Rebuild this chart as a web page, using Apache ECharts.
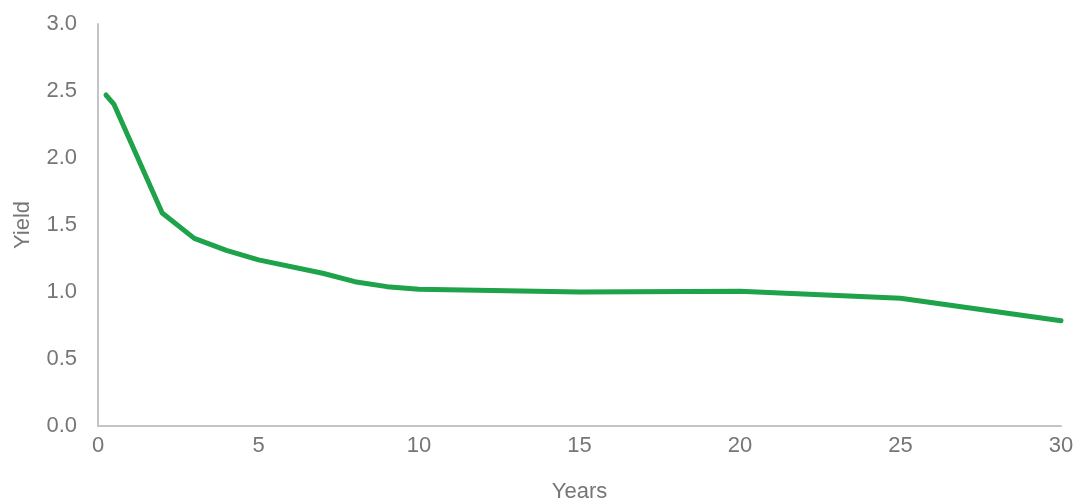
<!DOCTYPE html>
<html>
<head>
<meta charset="utf-8">
<script src="https://cdn.jsdelivr.net/npm/echarts@6/dist/echarts.min.js"></script>
<style>
  html, body { margin: 0; padding: 0; background: #fff; }
  #main { width: 1076px; height: 502px; }
</style>
</head>
<body>
<div id="main"></div>
<script>
// maturities (years) and yields
var years = [0.25, 0.5, 2, 3, 4, 5, 7, 8, 9, 10, 15, 20, 25, 30];
var yields = [2.47, 2.40, 1.59, 1.40, 1.31, 1.24, 1.14, 1.077, 1.04, 1.02, 1.00, 1.005, 0.953, 0.786];

var points = years.map(function (y, i) { return [y, yields[i]]; });

var labelColor = '#767676';
var axisColor = '#c4c4c4';
var font = '"Liberation Sans", Arial, sans-serif';

var chart = echarts.init(document.getElementById('main'));
chart.setOption({
    animation: false,
    grid: { left: 98, right: 15, top: 24, bottom: 76, outerBoundsMode: 'none', containLabel: false },
    xAxis: {
        type: 'value',
        min: 0,
        max: 30,
        interval: 5,
        name: 'Years',
        nameLocation: 'middle',
        nameGap: 55,
        nameTextStyle: { color: labelColor, fontSize: 22, fontFamily: font },
        axisLine: { show: true, lineStyle: { color: axisColor, width: 2 } },
        axisTick: { show: false },
        splitLine: { show: false },
        axisLabel: { color: labelColor, fontSize: 22, fontFamily: font, margin: 9 }
    },
    yAxis: {
        type: 'value',
        min: 0,
        max: 3,
        interval: 0.5,
        name: 'Yield',
        nameLocation: 'middle',
        nameGap: 64,
        nameTextStyle: { color: labelColor, fontSize: 22, fontFamily: font },
        axisLine: { show: true, lineStyle: { color: axisColor, width: 2 } },
        axisTick: { show: false },
        splitLine: { show: false },
        axisLabel: {
            color: labelColor, fontSize: 22, fontFamily: font, margin: 21,
            formatter: function (v) { return v.toFixed(1); }
        }
    },
    series: [{
        type: 'line',
        data: points,
        showSymbol: false,
        lineStyle: { color: '#1ea24a', width: 5, cap: 'round', join: 'round' }
    }]
});
</script>
</body>
</html>
